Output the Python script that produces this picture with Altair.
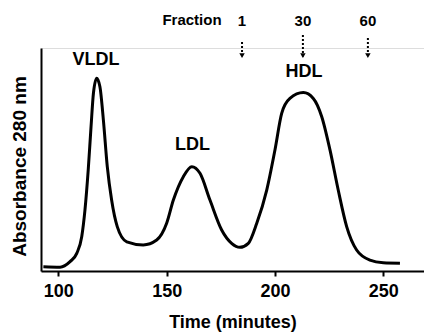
import altair as alt
import pandas as pd

# Chromatogram trace (time in minutes, relative absorbance)
time_min = [93.1, 100.8, 105.4, 108.5, 110.8, 112.3, 113.8, 115.1, 116.2, 117.7,
            119.2, 120.8, 122.6, 124.6, 127.2, 131.6, 139.2, 145.4, 150.0, 153.1,
            157.7, 161.6, 165.4, 170.0, 175.4, 180.0, 183.8, 187.7, 191.6, 196.2,
            200.0, 203.1, 206.9, 213.1, 217.7, 221.6, 225.4, 229.2, 233.1, 237.7,
            243.8, 250.0, 257.7]
absorbance = [0.019, 0.017, 0.042, 0.079, 0.154, 0.274, 0.453, 0.647, 0.797, 0.864,
              0.826, 0.677, 0.468, 0.318, 0.199, 0.131, 0.117, 0.139, 0.214, 0.318,
              0.423, 0.468, 0.438, 0.318, 0.184, 0.124, 0.106, 0.124, 0.214, 0.363,
              0.543, 0.707, 0.774, 0.800, 0.774, 0.692, 0.543, 0.363, 0.199, 0.094,
              0.049, 0.037, 0.035]

# Peak labels
peak_names = ["VLDL", "LDL", "HDL"]
peak_time = [117.4, 161.9, 213.4]
peak_y = [0.945, 0.565, 0.892]

# Fraction markers
fraction_labels = ["1", "30", "60"]
fraction_time = [184.8, 212.9, 242.9]

FONT = "Liberation Sans"

trace = pd.DataFrame({"t": time_min, "a": absorbance})
peaks = pd.DataFrame({"t": peak_time, "a": peak_y, "name": peak_names})
fr = pd.DataFrame({"t": fraction_time, "label": fraction_labels,
                   "ytxt": [1.121] * 3, "ytop": [1.027, 1.058, 1.045], "ybot": [0.962] * 3,
                   "yhead": [0.966] * 3})
frtitle = pd.DataFrame({"t": [161.7], "a": [1.126], "label": ["Fraction"]})

xscale = alt.Scale(domain=[92, 268.8], nice=False, zero=False)
yscale = alt.Scale(domain=[0, 1], nice=False, zero=False)

line = alt.Chart(trace).mark_line(color="black", strokeWidth=3, interpolate="monotone").encode(
    x=alt.X("t:Q", scale=xscale,
            axis=alt.Axis(title="Time (minutes)", values=[100, 150, 200, 250], grid=False,
                          domainColor="black", domainWidth=2, tickColor="black", tickWidth=2,
                          tickSize=5, labelFont=FONT, labelFontSize=18, labelFontWeight="bold",
                          labelColor="black", labelPadding=6, titleFont=FONT, titleFontSize=18,
                          titleFontWeight="bold", titleColor="black", titlePadding=13)),
    y=alt.Y("a:Q", scale=yscale,
            axis=alt.Axis(title="Absorbance 280 nm", ticks=False, labels=False, grid=False,
                          domainColor="black", domainWidth=2, titleFont=FONT, titleFontSize=19,
                          titleFontWeight="bold", titleColor="black", titlePadding=12,
                          titleY=118)),
)

peak_text = alt.Chart(peaks).mark_text(font=FONT, fontSize=18, fontWeight="bold", color="black",
                                       baseline="middle").encode(
    x="t:Q", y="a:Q", text="name:N")

fr_text = alt.Chart(fr).mark_text(font=FONT, fontSize=15, fontWeight="bold", color="black",
                                  baseline="middle").encode(x="t:Q", y="ytxt:Q", text="label:N")
fr_title = alt.Chart(frtitle).mark_text(font=FONT, fontSize=15, fontWeight="bold", color="black",
                                        baseline="middle").encode(x="t:Q", y="a:Q", text="label:N")
fr_stem = alt.Chart(fr).mark_rule(color="black", strokeWidth=2, strokeDash=[2, 2]).encode(
    x="t:Q", y="ytop:Q", y2="ybot:Q")
fr_head = alt.Chart(fr).mark_point(shape="triangle-down", filled=True, color="black", size=30,
                                   opacity=1).encode(x="t:Q", y="yhead:Q")

chart = alt.layer(line, peak_text, fr_stem, fr_head, fr_text, fr_title).properties(
    width=383, height=223,
    autosize=alt.AutoSizeParams(type="none"),
    padding={"left": 41, "top": 48, "right": 0, "bottom": 63},
).configure_view(stroke=None).configure(background="white")

chart.save("out.html", embed_options={"renderer": "svg", "actions": False})
